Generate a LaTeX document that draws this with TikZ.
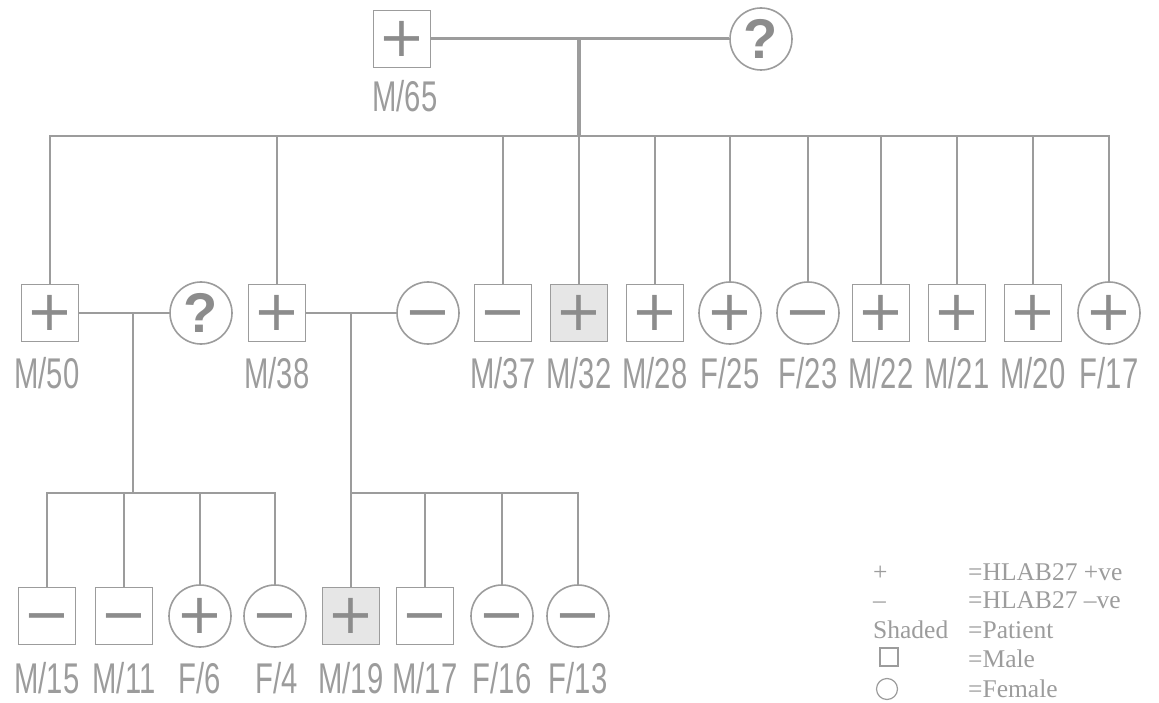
\documentclass[tikz,border=0pt]{standalone}
\usepackage{fontspec}
\setmainfont{Liberation Serif}
\newfontfamily\lblfont[FakeStretch=0.68]{Liberation Sans}
\newfontfamily\signfont{DejaVu Sans}
\newfontfamily\askfont{Liberation Sans}
\usetikzlibrary{positioning}

\definecolor{pedgrey}{HTML}{9C9C9C}
\definecolor{signgrey}{HTML}{8C8C8C}
\definecolor{patientfill}{HTML}{E6E6E6}
\newcommand\minussign{\vphantom{+}−}

\begin{document}
\begin{tikzpicture}[
  x=1pt, y=-1pt,
  person/.style={draw=pedgrey, line width=1.6pt, inner sep=0pt, text=signgrey,
    font=\signfont\fontsize{56}{56}\selectfont},
  male/.style={person, rectangle, minimum size=57pt},
  female/.style={person, circle, minimum size=62pt},
  patient/.style={fill=patientfill},
  unknown/.style={font=\askfont\bfseries\fontsize{56}{56}\selectfont},
  lbl/.style={anchor=base, text=pedgrey, inner sep=0pt,
    font=\lblfont\fontsize{43}{43}\selectfont},
  kinline/.style={draw=pedgrey, line width=2pt},
  key/.style={anchor=base west, text=pedgrey, inner sep=0pt,
    font=\fontsize{25.5}{25.5}\selectfont},
  keybox/.style={draw=pedgrey, line width=1.2pt, inner sep=0pt, minimum size=18pt},
  keyring/.style={keybox, circle, minimum size=21pt}
]
\useasboundingbox (0,0) rectangle (1159,703);

% first generation
\node[male] (m65) at (402,39) {+};
\node[female,unknown] (w65) at (761,39) {?};
\node[lbl] (m65l) at (405,112) {M/65};
\coordinate (u65) at (579,39);
\coordinate (s65) at (579,136);

% second generation
\node[male] (m50) at (50,313) {+};
\node[female,unknown] (w50) at (201,313) {?};
\node[male] (m38) at (277,313) {+};
\node[female] (w38) at (428,313) {\minussign};
\node[male] (m37) at (503,313) {\minussign};
\node[male,patient] (m32) at (579,313) {+};
\node[male] (m28) at (655,313) {+};
\node[female] (f25) at (730,313) {+};
\node[female] (f23) at (808,313) {\minussign};
\node[male] (m22) at (881,313) {+};
\node[male] (m21) at (957,313) {+};
\node[male] (m20) at (1033,313) {+};
\node[female] (f17) at (1109,313) {+};

\node[lbl] (m50l) at (47,388) {M/50};
\node[lbl] (m38l) at (277,388) {M/38};
\node[lbl] (m37l) at (503,388) {M/37};
\node[lbl] (m32l) at (579,388) {M/32};
\node[lbl] (m28l) at (655,388) {M/28};
\node[lbl] (f25l) at (730,388) {F/25};
\node[lbl] (f23l) at (808,388) {F/23};
\node[lbl] (m22l) at (881,388) {M/22};
\node[lbl] (m21l) at (957,388) {M/21};
\node[lbl] (m20l) at (1033,388) {M/20};
\node[lbl] (f17l) at (1109,388) {F/17};

\coordinate (u50) at (133,313);
\coordinate (s50) at (133,493);
\coordinate (u38) at (351,313);
\coordinate (s38) at (351,493);

% third generation
\node[male] (m15) at (47,616) {\minussign};
\node[male] (m11) at (124,616) {\minussign};
\node[female] (f6) at (200,616) {+};
\node[female] (f4) at (275,616) {\minussign};
\node[male,patient] (m19) at (351,616) {+};
\node[male] (m17) at (425,616) {\minussign};
\node[female] (f16) at (502,616) {\minussign};
\node[female] (f13) at (578,616) {\minussign};

\node[lbl] (m15l) at (47,693) {M/15};
\node[lbl] (m11l) at (124,693) {M/11};
\node[lbl] (f6l) at (200,693) {F/6};
\node[lbl] (f4l) at (277,693) {F/4};
\node[lbl] (m19l) at (351,693) {M/19};
\node[lbl] (m17l) at (425,693) {M/17};
\node[lbl] (f16l) at (502,693) {F/16};
\node[lbl] (f13l) at (578,693) {F/13};

% lines of descent
\draw[kinline, line width=3pt] (m65) -- (w65);
\draw[kinline, line width=4pt] (u65) -- (s65);
\draw[kinline] (s65) -| (m50.north) (s65) -| (m38.north) (s65) -| (m37.north)
  (s65) -| (m32.north) (s65) -| (m28.north) (s65) -| (f25.north)
  (s65) -| (f23.north) (s65) -| (m22.north) (s65) -| (m21.north)
  (s65) -| (m20.north) (s65) -| (f17.north);
\draw[kinline] (m50) -- (w50);
\draw[kinline] (u50) -- (s50);
\draw[kinline] (s50) -| (m15.north) (s50) -| (m11.north)
  (s50) -| (f6.north) (s50) -| (f4.north);
\draw[kinline] (m38) -- (w38);
\draw[kinline] (u38) -- (s38);
\draw[kinline] (s38) -| (m19.north) (s38) -| (m17.north)
  (s38) -| (f16.north) (s38) -| (f13.north);

% key
\node[key] (k1a) at (873,580) {+};
\node[key] (k1b) at (968,580) {=HLAB27 +ve};
\node[key] (k2a) at (873,608) {–};
\node[key] (k2b) at (968,608) {=HLAB27 –ve};
\node[key] (k3a) at (873,638) {Shaded};
\node[key] (k3b) at (968,638) {=Patient};
\node[keybox] (k4a) at (889,657) {};
\node[key] (k4b) at (968,667) {=Male};
\node[keyring] (k5a) at (887,689) {};
\node[key] (k5b) at (968,697) {=Female};
\end{tikzpicture}
\end{document}
